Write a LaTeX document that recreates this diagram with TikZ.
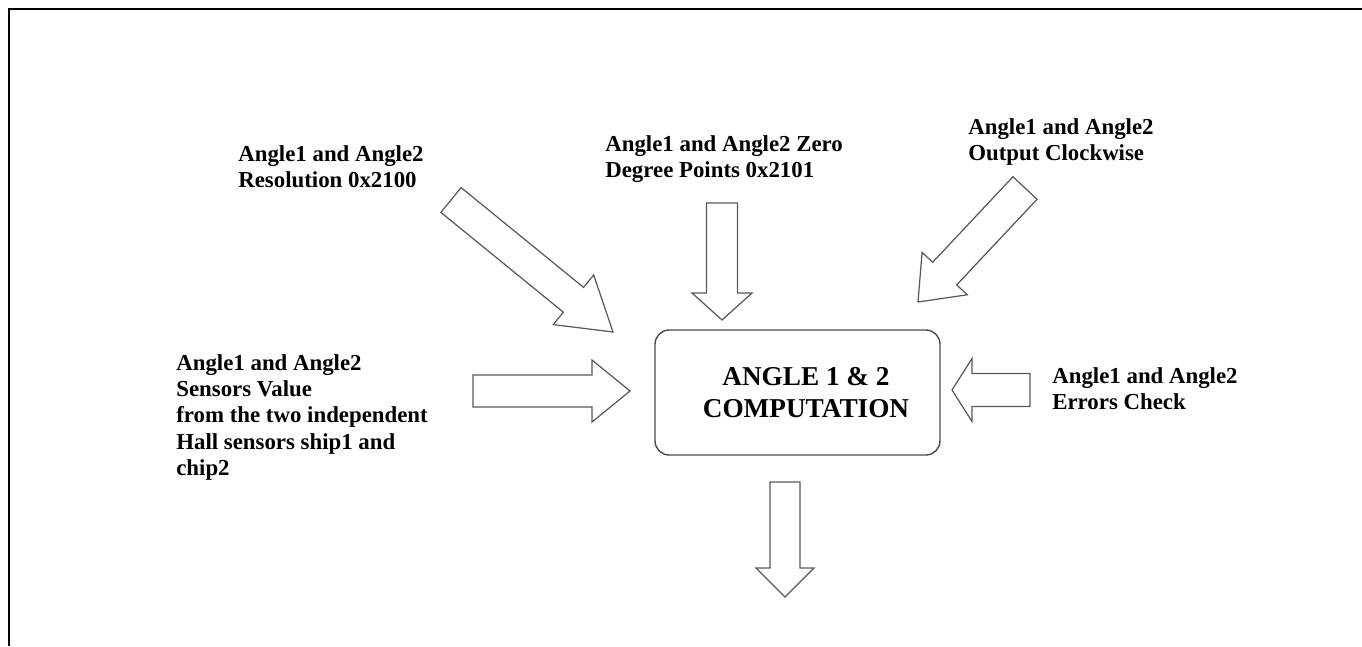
\documentclass[tikz,border=0pt]{standalone}
\usepackage{fontspec}
\setmainfont{Liberation Serif}
\usetikzlibrary{calc}
\tikzset{
  blockarrow/.style={draw=black!65, line width=0.7pt, line join=miter, fill=white},
  infotext/.style={anchor=north west, inner sep=0pt, align=left, font=\fontsize{13}{15}\selectfont\bfseries},
  compbox/.style={draw=black!70, line width=0.8pt, rounded corners=8pt, minimum width=5.7cm, minimum height=2.5cm},
  comptext/.style={align=center, xshift=0.17cm, font=\fontsize{15.5}{18}\selectfont\bfseries}
}
% block arrow from tail to tip: (tail)(tip){shaft half}{head half}{head length}
\def\fatarrow(#1)(#2)#3#4#5{\coordinate (h) at ($(#2)!#5!(#1)$);
  \draw[blockarrow] ($(#1)!#3!90:(#2)$) -- ($(h)!#3!90:(#2)$) -- ($(h)!#4!90:(#2)$) -- (#2)
    -- ($(h)!#4!-90:(#2)$) -- ($(h)!#3!-90:(#2)$) -- ($(#1)!#3!-90:(#2)$) -- cycle;}

\begin{document}
\begin{tikzpicture}[x=0.02cm, y=-0.02cm]
			%%%%% START %%%%%
			\useasboundingbox (0, 0) rectangle (1362, 646);
			\draw[line width=1.1pt] (9, 646) -- (9, 9) -- (1362, 9);
			
			\node[compbox, label={[comptext]center:ANGLE 1 \& 2\\COMPUTATION}] (comp) at (797.5, 392.5) {};
			
			\node[infotext] (res) at (238, 145) {Angle1 and Angle2\\Resolution 0x2100};
			\node[infotext] (zero) at (605, 135) {Angle1 and Angle2 Zero\\Degree Points 0x2101};
			\node[infotext] (clk) at (968, 118) {Angle1 and Angle2\\Output Clockwise};
			\node[infotext] (sens) at (176, 354) {Angle1 and Angle2\\Sensors Value\\from the two independent\\Hall sensors ship1 and\\chip2};
			\node[infotext] (err) at (1052, 367) {Angle1 and Angle2\\Errors Check};
			
			\coordinate (resTail) at (451, 200);  \coordinate (resTip) at (613, 332);
			\coordinate (zeroTail) at (722, 203); \coordinate (zeroTip) at (722, 320);
			\coordinate (clkTail) at (1025, 188); \coordinate (clkTip) at (918, 302);
			\coordinate (sensTail) at (473, 391); \coordinate (sensTip) at (630, 391);
			\coordinate (errTail) at (1030, 390); \coordinate (errTip) at (952, 390);
			\coordinate (outTail) at (785, 482);  \coordinate (outTip) at (785, 597);
			
			\fatarrow(resTail)(resTip){0.32cm}{0.64cm}{1.02cm}
			\fatarrow(zeroTail)(zeroTip){0.31cm}{0.60cm}{0.54cm}
			\fatarrow(clkTail)(clkTip){0.33cm}{0.62cm}{0.78cm}
			\fatarrow(sensTail)(sensTip){0.32cm}{0.62cm}{0.76cm}
			\fatarrow(errTail)(errTip){0.33cm}{0.63cm}{0.40cm}
			\fatarrow(outTail)(outTip){0.30cm}{0.58cm}{0.58cm}
			%%%%% END %%%%%
\end{tikzpicture}
\end{document}
